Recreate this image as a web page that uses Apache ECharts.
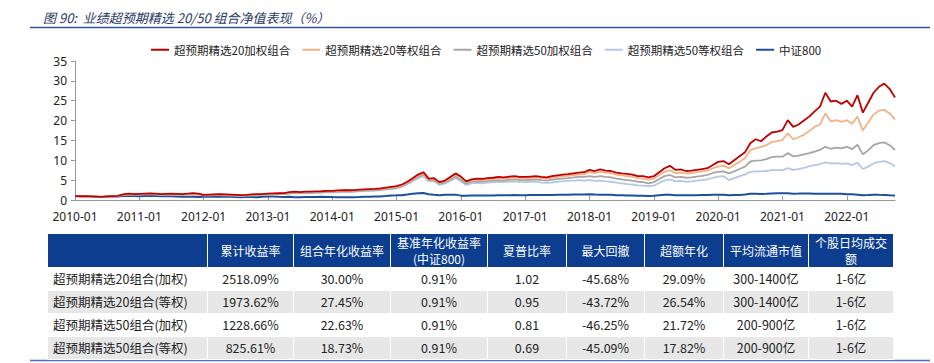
<!DOCTYPE html>
<html>
<head>
<meta charset="utf-8">
<script src="https://cdn.jsdelivr.net/npm/echarts@6/dist/echarts.min.js"></script>
<style>
  html, body { margin: 0; padding: 0; background: #fff; }
  #wrap { position: relative; width: 934px; height: 363px; overflow: hidden; }
  #chart { position: absolute; left: 0; top: 0; width: 934px; height: 363px; }
  #tbl { position: absolute; left: 47px; top: 233px; border-collapse: collapse; table-layout: fixed;
         font-family: "Noto Sans CJK SC", "Noto Sans", sans-serif; font-size: 12.5px; color: #222; }
  #tbl td, #tbl th { border: 1px solid #fff; padding: 0; text-align: center; white-space: nowrap; overflow: hidden; }
  #tbl th { background: #0c3d8f; color: #fff; font-weight: normal; height: 33px; line-height: 16px; font-size: 12px; }
  #tbl td { height: 22px; line-height: 22px; }
  #tbl tr.g td { background: #e7e7e7; }
  #tbl td.n { text-align: left; padding-left: 5px; }
</style>
</head>
<body>
<div id="wrap">
  <div id="chart"></div>
  <table id="tbl"></table>
</div>
<script>
// ---------- data ----------
const startYear = 2010, endYear = 2022, endMonth = 10;
const categories = [];
for (let y = startYear; y <= endYear; y++) {
  for (let m = 1; m <= 12; m++) {
    if (y === endYear && m > endMonth) break;
    categories.push(y + '-' + (m < 10 ? '0' + m : m));
  }
}

const seriesNames = ['超预期精选20加权组合', '超预期精选20等权组合', '超预期精选50加权组合', '超预期精选50等权组合', '中证800'];

const w20 = [
  1.0, 0.95, 1.0, 0.9, 0.85, 0.8, 0.9, 1.0, 1.05, 1.4, 1.6, 1.5,
  1.55, 1.6, 1.65, 1.6, 1.5, 1.55, 1.6, 1.55, 1.5, 1.6, 1.75, 1.6,
  1.3, 1.35, 1.4, 1.45, 1.4, 1.35, 1.3, 1.25, 1.3, 1.4, 1.5, 1.5,
  1.6, 1.65, 1.7, 1.75, 2.0, 2.1, 2.0, 2.1, 2.1, 2.15, 2.2, 2.3,
  2.3, 2.4, 2.45, 2.45, 2.5, 2.6, 2.7, 2.75, 2.8, 2.9, 3.1, 3.3,
  3.5, 3.9, 4.6, 5.5, 6.4, 7.0, 5.4, 5.5, 4.5, 4.9, 5.8, 6.7,
  5.9, 4.7, 5.2, 5.4, 5.3, 5.5, 5.6, 5.8, 5.7, 5.9, 6.0, 5.8,
  5.8, 5.9, 6.0, 5.8, 5.7, 6.0, 6.2, 6.4, 6.5, 6.7, 6.9, 7.0,
  7.6, 7.3, 7.7, 7.4, 7.3, 6.9, 6.7, 6.6, 6.4, 6.0, 6.0, 5.7,
  6.0, 7.0, 8.0, 8.6, 7.6, 7.7, 7.3, 7.4, 7.6, 7.8, 8.0, 8.8,
  9.6, 9.8, 9.0, 10.0, 11.0, 12.0, 14.3, 15.3, 14.8, 16.0, 17.0, 17.2,
  17.6, 20.1, 18.4, 19.0, 20.0, 21.0, 22.3, 23.5, 27.0, 24.8, 25.0, 24.2,
  25.0, 23.5, 26.4, 22.0, 24.5, 27.0, 28.5, 29.3, 28.0, 25.8
];
const e20 = [
  1.0, 0.95, 1.0, 0.9, 0.85, 0.8, 0.9, 1.0, 1.05, 1.35, 1.5, 1.45,
  1.5, 1.55, 1.6, 1.55, 1.45, 1.5, 1.55, 1.5, 1.45, 1.5, 1.6, 1.5,
  1.25, 1.3, 1.35, 1.4, 1.35, 1.3, 1.25, 1.2, 1.25, 1.3, 1.4, 1.45,
  1.55, 1.6, 1.6, 1.65, 1.85, 1.95, 1.9, 2.0, 2.0, 2.05, 2.1, 2.2,
  2.2, 2.3, 2.35, 2.35, 2.4, 2.5, 2.6, 2.65, 2.7, 2.8, 2.95, 3.1,
  3.3, 3.7, 4.4, 5.2, 6.1, 6.7, 5.2, 5.3, 4.3, 4.7, 5.5, 6.4,
  5.6, 4.5, 5.0, 5.1, 5.0, 5.2, 5.3, 5.5, 5.4, 5.6, 5.7, 5.5,
  5.5, 5.6, 5.7, 5.5, 5.4, 5.6, 5.8, 6.0, 6.1, 6.3, 6.4, 6.5,
  7.0, 6.8, 7.1, 6.9, 6.8, 6.4, 6.2, 6.0, 5.9, 5.5, 5.4, 5.1,
  5.4, 6.3, 7.1, 7.5, 6.8, 6.9, 6.7, 6.8, 7.0, 7.2, 7.4, 8.0,
  8.4, 8.6, 8.0, 8.8, 9.6, 10.5, 12.6, 13.0, 13.4, 13.8, 14.6, 14.8,
  15.1, 16.8, 15.3, 15.8, 16.4, 17.4, 18.4, 19.0, 21.8, 19.8, 20.1, 19.7,
  20.1, 19.2, 21.0, 17.5, 19.5, 21.5, 22.5, 22.7, 21.8, 20.3
];
const w50 = [
  1.0, 0.95, 1.0, 0.9, 0.85, 0.8, 0.9, 1.0, 1.05, 1.3, 1.45, 1.4,
  1.45, 1.5, 1.5, 1.45, 1.35, 1.4, 1.45, 1.4, 1.35, 1.4, 1.5, 1.4,
  1.2, 1.25, 1.3, 1.3, 1.25, 1.2, 1.15, 1.1, 1.15, 1.2, 1.3, 1.35,
  1.45, 1.5, 1.5, 1.55, 1.7, 1.8, 1.75, 1.85, 1.85, 1.9, 1.95, 2.0,
  2.0, 2.1, 2.15, 2.15, 2.2, 2.3, 2.4, 2.45, 2.5, 2.6, 2.75, 2.9,
  3.1, 3.5, 4.2, 5.0, 5.8, 6.4, 5.0, 5.0, 4.1, 4.4, 5.1, 5.9,
  5.1, 4.1, 4.6, 4.7, 4.6, 4.8, 4.9, 5.0, 4.9, 5.1, 5.2, 5.0,
  5.0, 5.1, 5.2, 5.0, 4.9, 5.1, 5.3, 5.4, 5.5, 5.7, 5.8, 5.8,
  6.0, 5.8, 6.0, 5.8, 5.7, 5.4, 5.2, 5.0, 4.9, 4.6, 4.5, 4.2,
  4.5, 5.3, 6.0, 6.3, 5.7, 5.8, 5.6, 5.7, 5.9, 6.1, 6.3, 6.8,
  7.1, 7.2, 6.7, 7.2, 7.8, 8.4, 9.7, 9.9, 10.0, 10.3, 10.8, 10.9,
  10.9, 11.8, 11.0, 11.2, 11.5, 11.8, 12.2, 12.6, 13.4, 12.9, 13.2, 13.0,
  13.4, 12.8, 13.9, 11.5, 12.5, 13.8, 14.3, 14.5, 13.8, 12.6
];
const e50 = [
  1.0, 0.95, 1.0, 0.9, 0.85, 0.8, 0.9, 1.0, 1.05, 1.25, 1.4, 1.35,
  1.4, 1.45, 1.45, 1.4, 1.3, 1.35, 1.4, 1.35, 1.3, 1.35, 1.45, 1.35,
  1.15, 1.2, 1.25, 1.25, 1.2, 1.15, 1.1, 1.05, 1.1, 1.15, 1.25, 1.3,
  1.4, 1.45, 1.45, 1.5, 1.6, 1.7, 1.65, 1.75, 1.75, 1.8, 1.85, 1.9,
  1.9, 1.95, 2.0, 2.0, 2.05, 2.15, 2.25, 2.3, 2.35, 2.45, 2.6, 2.75,
  2.9, 3.3, 4.0, 4.7, 5.5, 6.0, 4.7, 4.7, 3.8, 4.1, 4.8, 5.5,
  4.7, 3.8, 4.2, 4.3, 4.2, 4.4, 4.5, 4.6, 4.5, 4.6, 4.7, 4.5,
  4.5, 4.6, 4.6, 4.4, 4.3, 4.4, 4.6, 4.7, 4.8, 4.9, 5.0, 4.9,
  5.0, 4.8, 4.9, 4.7, 4.6, 4.4, 4.2, 4.0, 3.9, 3.7, 3.6, 3.5,
  3.6, 4.3, 4.9, 5.2, 4.7, 4.8, 4.6, 4.7, 4.9, 5.0, 5.2, 5.6,
  5.9, 6.0, 5.0, 5.5, 6.0, 6.4, 7.1, 7.2, 7.2, 7.3, 7.5, 7.5,
  7.5, 8.0, 7.6, 7.8, 8.1, 8.5, 8.8, 9.0, 9.5, 9.2, 9.3, 9.1,
  9.2, 8.8, 9.4, 7.8, 8.4, 9.2, 9.6, 9.8, 9.3, 8.5
];
const csi800 = [
  1.0, 0.98, 1.0, 0.92, 0.82, 0.78, 0.85, 0.88, 0.9, 1.02, 0.98, 0.98,
  0.97, 1.0, 1.02, 1.0, 0.95, 0.95, 0.93, 0.88, 0.82, 0.84, 0.82, 0.78,
  0.8, 0.85, 0.82, 0.85, 0.84, 0.8, 0.75, 0.72, 0.74, 0.73, 0.7, 0.8,
  0.85, 0.85, 0.8, 0.78, 0.82, 0.72, 0.72, 0.76, 0.78, 0.78, 0.8, 0.76,
  0.73, 0.72, 0.72, 0.72, 0.72, 0.74, 0.8, 0.81, 0.85, 0.87, 0.98, 1.15,
  1.18, 1.22, 1.4, 1.6, 1.7, 1.75, 1.45, 1.3, 1.22, 1.3, 1.33, 1.35,
  1.1, 1.05, 1.15, 1.13, 1.12, 1.13, 1.15, 1.18, 1.17, 1.2, 1.25, 1.2,
  1.22, 1.24, 1.25, 1.23, 1.23, 1.28, 1.32, 1.34, 1.35, 1.4, 1.38, 1.38,
  1.45, 1.38, 1.35, 1.3, 1.3, 1.2, 1.2, 1.12, 1.15, 1.05, 1.05, 1.0,
  1.05, 1.2, 1.3, 1.3, 1.2, 1.22, 1.22, 1.2, 1.22, 1.24, 1.25, 1.33,
  1.32, 1.3, 1.22, 1.28, 1.28, 1.38, 1.55, 1.58, 1.52, 1.56, 1.65, 1.7,
  1.72, 1.7, 1.6, 1.62, 1.65, 1.65, 1.55, 1.55, 1.55, 1.56, 1.55, 1.58,
  1.45, 1.42, 1.32, 1.2, 1.25, 1.35, 1.3, 1.27, 1.18, 1.12
];

const yTicks = [0, 5, 10, 15, 20, 25, 30, 35];

// table data
const tableHeader = ['', '累计收益率', '组合年化收益率', '基准年化收益率<br>(中证800)', '夏普比率', '最大回撤', '超额年化', '平均流通市值', '个股日均成交<br>额'];
const rowNames = ['超预期精选20组合(加权)', '超预期精选20组合(等权)', '超预期精选50组合(加权)', '超预期精选50组合(等权)'];
const cumReturn = ['2518.09%', '1973.62%', '1228.66%', '825.61%'];
const annReturn = ['30.00%', '27.45%', '22.63%', '18.73%'];
const benchReturn = ['0.91%', '0.91%', '0.91%', '0.91%'];
const sharpe = ['1.02', '0.95', '0.81', '0.69'];
const maxDD = ['-45.68%', '-43.72%', '-46.25%', '-45.09%'];
const excessAnn = ['29.09%', '26.54%', '21.72%', '17.82%'];
const avgCap = ['300-1400亿', '300-1400亿', '200-900亿', '200-900亿'];
const dailyTurnover = ['1-6亿', '1-6亿', '1-6亿', '1-6亿'];

// ---------- table ----------
const colWidths = [160, 86, 97, 97, 79, 78, 79, 85, 85];
const tbl = document.getElementById('tbl');
let html = '<colgroup>' + colWidths.map(w => '<col style="width:' + w + 'px">').join('') + '</colgroup>';
html += '<tr>' + tableHeader.map(h => '<th>' + h + '</th>').join('') + '</tr>';
for (let i = 0; i < rowNames.length; i++) {
  const cells = [cumReturn[i], annReturn[i], benchReturn[i], sharpe[i], maxDD[i], excessAnn[i], avgCap[i], dailyTurnover[i]];
  html += '<tr' + (i % 2 === 1 ? ' class="g"' : '') + '><td class="n">' + rowNames[i] + '</td>' + cells.map(c => '<td>' + c + '</td>').join('') + '</tr>';
}
tbl.innerHTML = html;

// ---------- chart ----------
const chart = echarts.init(document.getElementById('chart'), null, { renderer: 'svg' });
const colors = ['#c00000', '#f4b183', '#a6a6a6', '#b4c7e7', '#1f4e9c'];
const dataSets = [w20, e20, w50, e50, csi800];
const isJan = (idx, val) => /-01$/.test(val);

chart.setOption({
  animation: false,
  color: colors,
  title: {
    text: '图 90:  业绩超预期精选 20/50 组合净值表现（%）',
    left: 38, top: 6,
    textStyle: { fontSize: 13, fontStyle: 'italic', fontWeight: 'normal', color: '#1f3864',
                 fontFamily: '"Noto Sans CJK SC", "Noto Sans", sans-serif' }
  },
  graphic: [
    { type: 'line', shape: { x1: 30, y1: 27.5, x2: 930, y2: 27.5 }, style: { stroke: '#2f5597', lineWidth: 1.5 } },
    { type: 'line', shape: { x1: 30, y1: 360.5, x2: 930, y2: 360.5 }, style: { stroke: '#4472c4', lineWidth: 1.5 } }
  ],
  legend: {
    left: 146, top: 39,
    itemWidth: 18, itemHeight: 2, itemGap: 12,
    icon: 'rect',
    textStyle: { fontSize: 11.5, color: '#222', fontFamily: '"Noto Sans CJK SC", "Noto Sans", sans-serif' },
    data: seriesNames
  },
  grid: { left: 75, right: 39, top: 61, bottom: 163, containLabel: false },
  xAxis: {
    type: 'category',
    data: categories,
    boundaryGap: false,
    axisLine: { lineStyle: { color: '#999', width: 1 } },
    axisTick: { inside: true, length: 4, interval: isJan, lineStyle: { color: '#999' } },
    axisLabel: { interval: isJan, fontSize: 12, color: '#222', margin: 10,
                 fontFamily: '"Noto Sans", "DejaVu Sans", sans-serif' },
    splitLine: { show: false }
  },
  yAxis: {
    type: 'value',
    min: yTicks[0], max: yTicks[yTicks.length - 1], interval: 5,
    axisLine: { show: true, lineStyle: { color: '#999', width: 1 } },
    axisTick: { show: true, length: 4, lineStyle: { color: '#999' } },
    axisLabel: { fontSize: 12, color: '#222', margin: 8,
                 fontFamily: '"Noto Sans", "DejaVu Sans", sans-serif' },
    splitLine: { show: false }
  },
  series: seriesNames.map((n, i) => ({
    name: n,
    type: 'line',
    data: dataSets[i],
    showSymbol: false,
    symbol: 'none',
    z: 10 - i,
    itemStyle: { color: colors[i] },
    lineStyle: { width: i === 4 ? 2 : 1.8, color: colors[i] },
    emphasis: { disabled: true }
  }))
});
</script>
</body>
</html>
